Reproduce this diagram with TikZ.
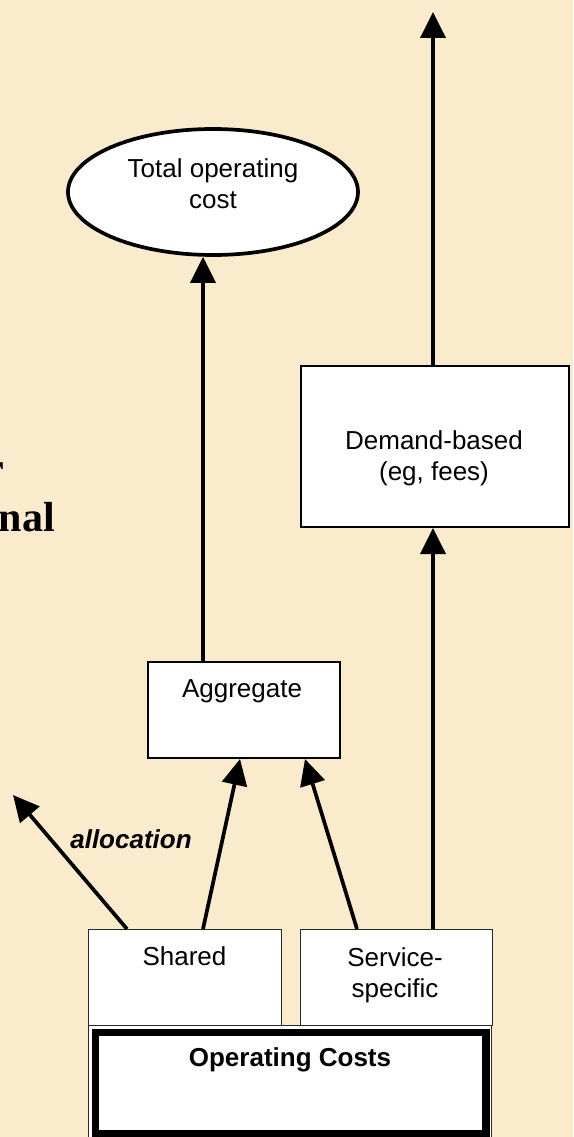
\documentclass[tikz,border=0pt]{standalone}
\usepackage{fontspec}
\setmainfont{Liberation Sans}
\newfontfamily\headserif{Liberation Serif}
\usetikzlibrary{arrows.meta,shapes.geometric,calc}
\definecolor{parchment}{RGB}{251,235,205}
\definecolor{edgegray}{RGB}{40,40,40}

\begin{document}
\begin{tikzpicture}[x=1pt,y=-1pt,
  lbl/.style={inner sep=0pt, align=center, anchor=base, font=\fontsize{26}{31}\selectfont},
  frag/.style={inner sep=0pt, anchor=base east, font=\headserif\bfseries\fontsize{42}{48}\selectfont},
  box/.style={draw=black, line width=2pt, fill=white, inner sep=0pt, anchor=north west},
  subbox/.style={draw=edgegray, line width=1.2pt, fill=white, inner sep=0pt, anchor=north west},
  flow/.style={line width=3.7pt, -{Triangle[length=26pt,width=25pt]}},
]
\useasboundingbox (0,0) rectangle (573,1137);
\clip (0,0) rectangle (573,1137);
\fill[parchment] (0,0) rectangle (573,1137);

% fragments of a heading running off the left edge
\node[frag] (frag-r) at (4,482) {r};
\node[frag] (frag-nal) at (55,531) {nal};
\node[frag] (frag-paren) at (2,1142) {)};

% cost boxes
\node[subbox, minimum width=193pt, minimum height=96pt] (shared) at (88,929) {};
\node[subbox, minimum width=192pt, minimum height=96pt] (service) at (300,929) {};
\node[subbox, minimum width=403pt, minimum height=130pt] (opcost) at (88,1025) {};
\draw[line width=7.5pt] ($(opcost.north west)+(7.5,7.5)$) rectangle ($(opcost.north east)+(-6,108.5)$);
\node[box, minimum width=192pt, minimum height=96pt] (aggregate) at (147,661) {};
\node[box, minimum width=268pt, minimum height=161pt] (demand) at (300,365) {};
\node[draw, ellipse, line width=3.7pt, fill=white, minimum width=290pt, minimum height=126pt, inner sep=0pt] (total) at (213,192) {};

% labels (multi-line labels sit on the baseline of their last line)
\node[lbl] (total-text) at (213,208) {Total operating\\cost};
\node[lbl] (demand-text) at (434,480) {Demand-based\\(eg, fees)};
\node[lbl] (aggregate-text) at (242,697) {Aggregate};
\node[lbl] (shared-text) at (184.5,965) {Shared};
\node[lbl] (service-text) at (395,997) {Service-\\specific};
\node[lbl, font=\fontsize{26}{31}\selectfont\bfseries] (opcost-text) at (290,1066) {Operating Costs};
\node[lbl, font=\fontsize{26}{31}\selectfont\bfseries\itshape] (alloc-text) at (131,848) {allocation};

% connectors
\coordinate (topend) at (433,12);
\coordinate (allocend) at (13,795);
\draw[flow] ([xshift=133pt]demand.north west) -- (topend);
\draw[flow] ([xshift=56pt]aggregate.north west) -- ([xshift=-10pt]total.south);
\draw[flow] ([xshift=133pt]service.north west) -- ([xshift=133pt]demand.south west);
\draw[flow] ([xshift=115pt]shared.north west) -- ([xshift=93pt]aggregate.south west);
\draw[flow] ([xshift=57pt]service.north west) -- ([xshift=158pt]aggregate.south west);
\draw[flow] ([xshift=39pt]shared.north west) -- (allocend);
\end{tikzpicture}
\end{document}
